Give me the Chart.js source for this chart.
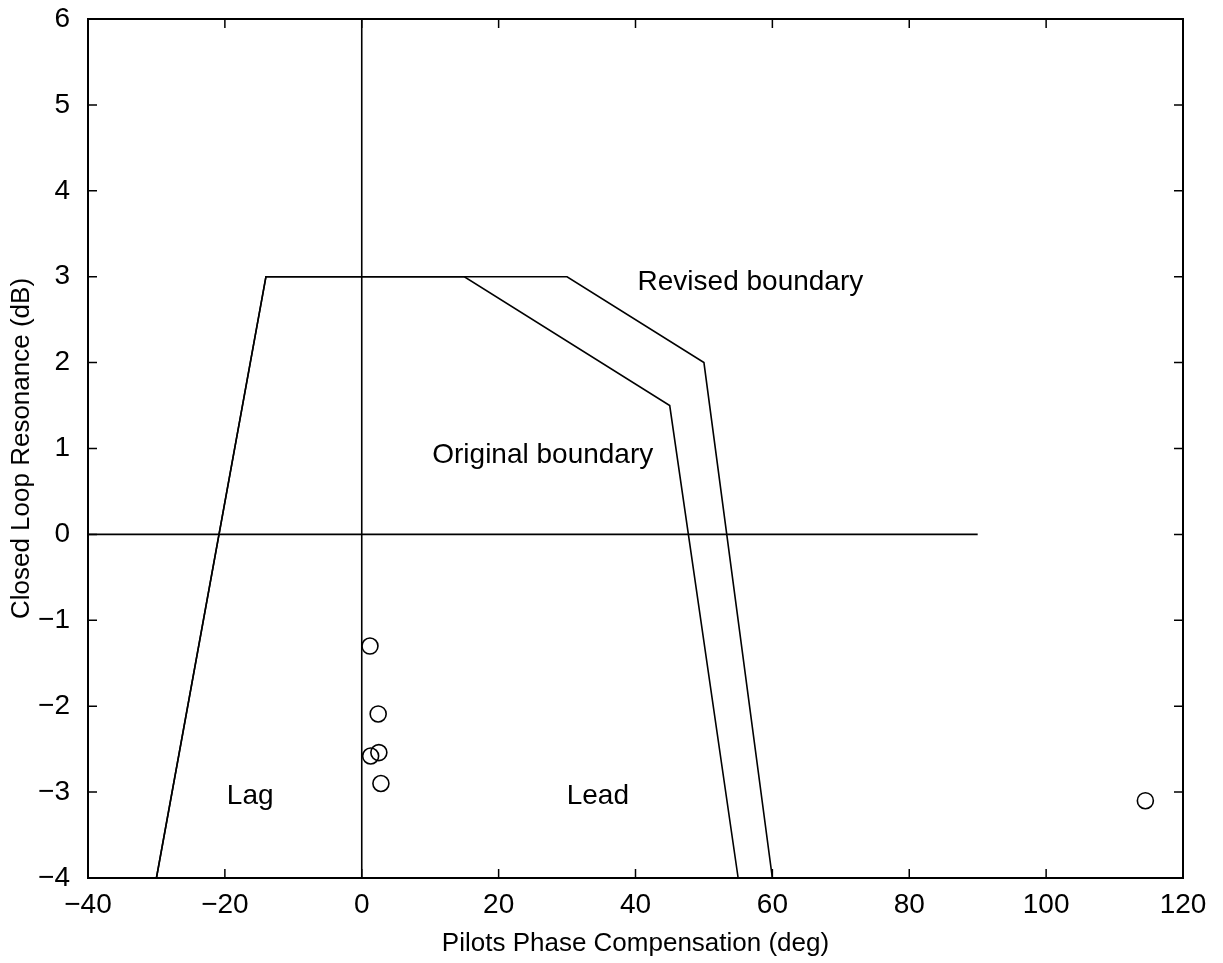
<!DOCTYPE html>
<html>
<head>
<meta charset="utf-8">
<script src="https://cdn.jsdelivr.net/npm/chart.js@4.4.1/dist/chart.umd.min.js"></script>
<style>
  html, body { margin: 0; padding: 0; background: #fff; }
  #wrap { width: 1223px; height: 963px; }
</style>
</head>
<body>
<div id="wrap"><canvas id="chart" width="1223" height="963"></canvas></div>
<script>
'use strict'

// boundary lines (deg, dB)
const revisedX = [-30, -14, 30, 50, 60];
const revisedY = [-4, 3, 3, 2, -4];
const originalX = [-30, -14, 15, 45, 55];
const originalY = [-4, 3, 3, 1.5, -4];

// reference axes drawn inside the plot
const zeroLineX = [-40, 90];
const zeroLineY = [0, 0];
const vertLineX = [0, 0];
const vertLineY = [-4, 6];

// pilot data (circles)
const pilotX = [1.2, 2.4, 1.3, 2.5, 2.8, 114.5];
const pilotY = [-1.3, -2.09, -2.58, -2.54, -2.9, -3.1];

// text labels placed in data units
const noteText = ['Revised boundary', 'Original boundary', 'Lag', 'Lead'];
const noteX = [40.3, 10.3, -16.3, 34.5];
const noteY = [2.93, 0.92, -3.05, -3.05];

const xTicks = [-40, -20, 0, 20, 40, 60, 80, 100, 120];
const yTicks = [-4, -3, -2, -1, 0, 1, 2, 3, 4, 5, 6];

const FONT = '"Liberation Sans", Arial, Helvetica, sans-serif';

function pairs(xs, ys) {
    let out = [];
    for (let i = 0; i < xs.length; i++) {
        out.push({ x: xs[i], y: ys[i] });
    }
    return out;
}

function minusSign(v) {
    return String(v).replace('-', '\u2212');
}

function lineSet(xs, ys) {
    return {
        data: pairs(xs, ys),
        showLine: true,
        borderColor: '#000',
        borderWidth: 1.6,
        pointRadius: 0,
        fill: false
    };
}

// matlab-ish frame with inward ticks, plus the text notes
const framePlugin = {
    id: 'frame',
    afterDatasetsDraw(chart) {
        const ctx = chart.ctx;
        const a = chart.chartArea;
        const xs = chart.scales.x;
        const ys = chart.scales.y;
        const len = 9;
        ctx.save();
        ctx.strokeStyle = '#000';
        ctx.lineWidth = 2;
        ctx.strokeRect(a.left, a.top, a.right - a.left, a.bottom - a.top);
        ctx.lineWidth = 1.5;
        ctx.beginPath();
        xTicks.forEach(v => {
            let px = xs.getPixelForValue(v);
            ctx.moveTo(px, a.bottom); ctx.lineTo(px, a.bottom - len);
            ctx.moveTo(px, a.top); ctx.lineTo(px, a.top + len);
        });
        yTicks.forEach(v => {
            let py = ys.getPixelForValue(v);
            ctx.moveTo(a.left, py); ctx.lineTo(a.left + len, py);
            ctx.moveTo(a.right, py); ctx.lineTo(a.right - len, py);
        });
        ctx.stroke();

        ctx.fillStyle = '#000';
        ctx.font = '28px ' + FONT;
        ctx.textBaseline = 'middle';
        for (let i = 0; i < noteText.length; i++) {
            let px = xs.getPixelForValue(noteX[i]);
            let py = ys.getPixelForValue(noteY[i]);
            ctx.textAlign = (noteText[i] === 'Lag' || noteText[i] === 'Lead') ? 'center' : 'left';
            ctx.fillText(noteText[i], px, py);
        }
        ctx.restore();
    }
};

let canvasElem = document.getElementById('chart');

let chartObj = {
    type: 'scatter',
    data: {
        datasets: [
            lineSet(revisedX, revisedY),
            lineSet(originalX, originalY),
            lineSet(zeroLineX, zeroLineY),
            lineSet(vertLineX, vertLineY),
            {
                data: pairs(pilotX, pilotY),
                showLine: false,
                pointStyle: 'circle',
                pointRadius: 8,
                pointBorderWidth: 1.6,
                pointBorderColor: '#000',
                pointBackgroundColor: 'rgba(0,0,0,0)'
            }
        ]
    },
    options: {
        responsive: false,
        animation: false,
        layout: { padding: { top: 19, right: 40, left: 0, bottom: 0 } },
        plugins: {
            legend: { display: false },
            tooltip: { enabled: false }
        },
        scales: {
            x: {
                type: 'linear',
                min: -40,
                max: 120,
                afterBuildTicks: s => { s.ticks = xTicks.map(v => ({ value: v })); },
                afterFit: s => { s.height = 85; },
                grid: { display: false },
                border: { display: false },
                ticks: {
                    color: '#000',
                    padding: 2,
                    font: { family: FONT, size: 28 },
                    callback: v => minusSign(v)
                },
                title: {
                    display: true,
                    text: 'Pilots Phase Compensation (deg)',
                    color: '#000',
                    padding: { top: 0, bottom: 4 },
                    font: { family: FONT, size: 26 }
                }
            },
            y: {
                type: 'linear',
                min: -4,
                max: 6,
                afterBuildTicks: s => { s.ticks = yTicks.map(v => ({ value: v })); },
                afterFit: s => {
                    s.width = 88;
                    s.paddingTop = 0;
                    s.paddingBottom = 0;
                },
                grid: { display: false },
                border: { display: false },
                ticks: {
                    color: '#000',
                    padding: 10,
                    font: { family: FONT, size: 28 },
                    callback: v => minusSign(v)
                },
                title: {
                    display: true,
                    text: 'Closed Loop Resonance (dB)',
                    color: '#000',
                    padding: { top: 6, bottom: 0 },
                    font: { family: FONT, size: 26 }
                }
            }
        }
    },
    plugins: [framePlugin]
};

new Chart(canvasElem, chartObj);
</script>
</body>
</html>
